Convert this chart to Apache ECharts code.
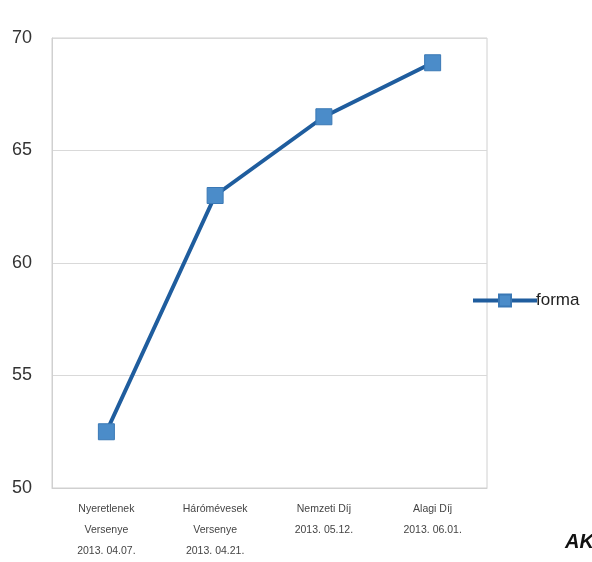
<!DOCTYPE html>
<html><head><meta charset="utf-8">
<script src="https://cdn.jsdelivr.net/npm/echarts@6/dist/echarts.min.js"></script>
<style>html,body{margin:0;padding:0;background:#fff}#c{width:592px;height:562px}</style>
</head><body><div id="c"></div>
<script>
const categories = ["Nyeretlenek\nVersenye\n2013. 04.07.", "Hárómévesek\nVersenye\n2013. 04.21.", "Nemzeti Díj\n2013. 05.12.", "Alagi Díj\n2013. 06.01."];
const formaValues = [52.5, 63, 66.5, 68.9];
const yTicks = [50, 55, 60, 65, 70];
const seriesName = "forma";

const chart = echarts.init(document.getElementById('c'), null, {renderer: 'canvas'});
chart.setOption({
  animation: false,
  backgroundColor: '#fff',
  grid: {left: 52, right: 105, top: 38, bottom: 74, show: true, borderColor: '#d0d0d0', borderWidth: 1},
  legend: {
    data: [seriesName], orient: 'vertical', left: 466, top: 287,
    itemWidth: 64, itemHeight: 15, itemGap: 4,
    lineStyle: {width: 4, color: '#1f5d9e'},
    textStyle: {fontSize: 17, color: '#222', fontFamily: 'Liberation Sans', padding: [0,0,0,-6]}
  },
  xAxis: {
    type: 'category', data: categories, boundaryGap: true,
    axisLine: {lineStyle: {color: '#d0d0d0'}}, axisTick: {show: false},
    axisLabel: {fontSize: 10.5, color: '#444', lineHeight: 21, margin: 11, interval: 0, fontFamily: 'Liberation Sans'}
  },
  yAxis: {
    type: 'value', min: yTicks[0], max: yTicks[yTicks.length-1], interval: 5,
    axisLine: {show: true, lineStyle: {color: '#d0d0d0'}}, axisTick: {show: false},
    splitLine: {lineStyle: {color: '#d9d9d9'}},
    axisLabel: {fontSize: 18, color: '#333', margin: 20, fontFamily: 'Liberation Sans'}
  },
  series: [{
    name: seriesName, type: 'line', data: formaValues,
    lineStyle: {color: '#1f5d9e', width: 4},
    symbol: 'rect', symbolSize: 16,
    itemStyle: {color: '#4b8cc9', borderColor: '#3a78b5', borderWidth: 1}
  }],
  graphic: [{
    type: 'text', left: 565, top: 532,
    style: {text: 'AK', fontSize: 20, fontWeight: 'bold', fontStyle: 'italic', fill: '#111', fontFamily: 'Liberation Sans'}
  }]
});
</script></body></html>
